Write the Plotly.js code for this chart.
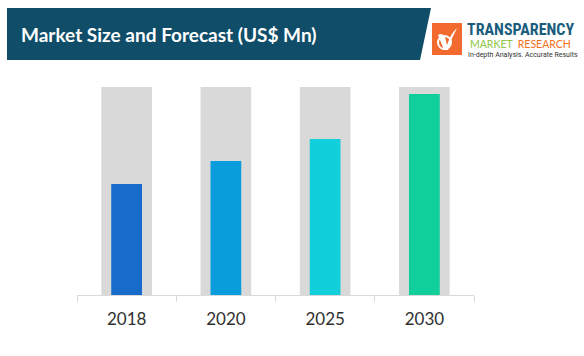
<!DOCTYPE html>
<html>
<head>
<meta charset="utf-8">
<script src="https://cdn.plot.ly/plotly-3.0.1.min.js"></script>
<style>
html,body{margin:0;padding:0;background:#fff;}
#chart{width:584px;height:356px;}
</style>
</head>
<body>
<div id="chart"></div>
<script>
// ---- data ----
const years = ["2018", "2020", "2025", "2030"];
const marketSize = [53.4, 64.4, 75.0, 96.6];
const backdrop = [100, 100, 100, 100];
const barColors = ["#166CC8", "#0A9DDB", "#12CFDC", "#10CF9A"];

// ---- pixel -> paper helpers (plot area 77..474 x 87..295) ----
const L = 77, R = 474, T = 87, B = 295;
const px = x => (x - L) / (R - L);
const py = y => (B - y) / (B - T);

const traces = [
  {
    type: "bar", x: years, y: backdrop, width: 0.51,
    marker: {color: "#D9D9D9"}, hoverinfo: "skip", showlegend: false
  },
  {
    type: "bar", x: years, y: marketSize, width: 0.31,
    marker: {color: barColors}, showlegend: false
  }
];

const bannerPath = `M ${px(7)} ${py(8)} L ${px(431)} ${py(8)} L ${px(420)} ${py(60)} L ${px(7)} ${py(60)} Z`;
const check = `M ${px(438)} ${py(35)} Q ${px(442)} ${py(32)} ${px(445)} ${py(37)} L ${px(447)} ${py(45)} Q ${px(451)} ${py(33)} ${px(457)} ${py(28)} Q ${px(451)} ${py(39)} ${px(448)} ${py(50)} L ${px(444)} ${py(50)} Z`;

const layout = {
  width: 584, height: 356,
  margin: {l: L, r: 584 - R, t: T, b: 356 - B, pad: 0},
  paper_bgcolor: "#fff", plot_bgcolor: "#fff",
  barmode: "overlay",
  font: {family: "Lato, 'Open Sans', sans-serif"},
  xaxis: {
    type: "category", range: [-0.5, 3.5],
    showline: true, linecolor: "#D9D9D9", linewidth: 1,
    ticks: "outside", tickson: "boundaries", ticklen: 6, tickcolor: "#D9D9D9",
    ticklabelstandoff: 9,
    tickfont: {family: "Lato, sans-serif", size: 17, color: "#303030"},
    showgrid: false, zeroline: false, fixedrange: true
  },
  yaxis: {
    range: [0, 100], visible: false, showgrid: false, zeroline: false, fixedrange: true
  },
  shapes: [
    {type: "path", xref: "paper", yref: "paper", path: bannerPath,
     fillcolor: "#0F4D69", line: {width: 0}, layer: "above"},
    {type: "rect", xref: "paper", yref: "paper",
     x0: px(432), x1: px(462), y0: py(55), y1: py(23),
     fillcolor: "#F26A2E", line: {width: 0}},
    {type: "path", xref: "paper", yref: "paper", path: check,
     fillcolor: "#FFFFFF", line: {width: 0}},
    {type: "circle", xref: "paper", yref: "paper",
     x0: px(438), x1: px(451), y0: py(49), y1: py(36),
     line: {color: "#FFFFFF", width: 2}, fillcolor: "rgba(0,0,0,0)"}
  ],
  annotations: [
    {text: "<b>Market Size and Forecast (US$ Mn)</b>", xref: "paper", yref: "paper",
     x: px(19), y: py(34), xanchor: "left", yanchor: "middle", showarrow: false,
     font: {family: "Lato, sans-serif", size: 19, color: "#FFFFFF"}},
    {text: "<b>TRANSPARENCY</b>", xref: "paper", yref: "paper",
     x: px(465), y: py(29), xanchor: "left", yanchor: "middle", showarrow: false,
     font: {family: "'Liberation Sans Narrow', 'Roboto Condensed', Roboto, sans-serif", size: 16, color: "#1A5D7C"}},
    {text: "<span style='color:#8DC63F'>MARKET</span>  <span style='color:#F26F21'>RESEARCH</span>", xref: "paper", yref: "paper",
     x: px(520), y: py(44), xanchor: "center", yanchor: "middle", showarrow: false,
     font: {family: "Lato, sans-serif", size: 10.5}},
    {text: "In-depth Analysis. Accurate Results", xref: "paper", yref: "paper",
     x: px(466), y: py(55), xanchor: "left", yanchor: "middle", showarrow: false,
     font: {family: "'Liberation Sans Narrow', Roboto, sans-serif", size: 7, color: "#333333"}}
  ]
};

Plotly.newPlot("chart", traces, layout, {displayModeBar: false, staticPlot: true});
</script>
</body>
</html>
